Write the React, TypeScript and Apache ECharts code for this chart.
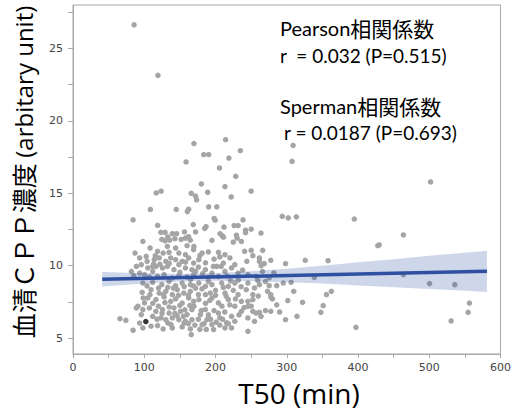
import React, { useEffect, useRef } from "react";
import * as echarts from "echarts";

// T50 (min), serum CPP (arbitrary unit)
const points: number[][] = [
  [85.7,26.63],[119.2,23.14],[169.7,18.43],[214.2,18.7],[234.9,17.94],[183.5,17.67],[190.4,17.67],[218.8,17.43],
  [158.7,17.16],[205.6,16.75],[228.4,16.17],[180.2,15.64],[213.3,15.46],[116.8,15.02],[123.7,15.14],[166,15.0],
  [172,14.8],[189,15.07],[222,14.75],[250,15.14],[308.9,18.3],[307.5,17.2],[501.8,15.78],[173.5,14.55],
  [190.4,14.06],[201.8,14.06],[293.7,13.41],[302,13.3],[313.5,13.37],[198.1,13.26],[199.5,13.14],[238.6,13.16],
  [168.8,12.84],[172,12.33],[186.7,12.7],[184.9,12.57],[211.9,12.66],[226.2,12.77],[231.7,12.77],[242.2,12.45],
  [250.1,12.52],[263.8,12.25],[206.4,12.21],[209.7,12.05],[229.4,12.1],[230.4,11.9],[242.2,12.28],[195,11.75],
  [224.9,11.62],[236.3,11.67],[211.1,11.97],
  [108.6,13.88],[144.9,13.88],[160.5,13.74],[162.3,13.9],[84.3,13.16],[118.8,12.79],[123.3,12.3],[129.2,12.3],
  [139.4,12.21],[145.4,12.21],[133,11.98],[156.4,12.33],[162.3,12.0],[124.7,11.81],[129.2,11.72],[135.7,11.76],
  [143,11.86],[151.8,11.81],[157.8,11.9],[164.6,11.76],[98.1,11.67],
  [108.2,11.22],[118.7,10.99],[132.5,11.33],[144,11.22],[160.1,11.38],[169.3,11.1],[115.5,10.69],[126.5,10.87],
  [134.8,10.92],[148.6,10.87],[157.8,10.76],[93.5,10.53],[102.7,10.64],[114.1,10.41],[121,10.53],[130.2,10.3],
  [137.1,10.53],[144,10.41],[153.2,10.3],[162.4,10.53],[169.3,10.18],[88.9,9.95],[95.8,10.07],[105,9.84],
  [116.4,9.95],[125.6,9.84],[132.5,9.95],[141.7,9.72],[148.6,10.07],[157.8,9.84],[166.9,9.72],[82,9.61],
  [93.5,9.49],[111.8,9.61],[85.2,9.31],[100.4,9.38],[107.2,9.22],[118.7,9.26],[127.9,9.38],[139.4,9.15],
  [148.6,9.31],[160.1,9.22],[169.3,9.38],[98.1,8.8],[111.8,8.85],[124.7,8.69],[134.8,8.92],[144,8.62],
  [153.2,8.8],[164.7,8.69],[97.1,8.16],[109.5,8.34],[121,8.11],[130.2,8.23],[139.4,8.0],[146.3,8.34],
  [155.5,8.11],[164.7,8.23],[105,7.77],[116.4,7.66],[127.9,7.84],[137.1,7.54],[144,7.7],[153.2,7.42],
  [162.4,7.77],[169.3,7.54],[100.4,7.43],[91.2,7.2],[88.9,7.08],[98.1,6.97],[107.2,7.08],[116.4,6.85],
  [125.6,6.97],[134.8,6.73],[141.7,7.08],[150.9,6.85],[160.1,6.62],[166.9,6.97],[95.8,6.62],[111.8,6.5],
  [123.3,6.39],[130.2,6.27],[139.4,6.39],[148.6,6.27],[157.8,6.16],[166.9,6.27],[65.9,6.34],[74.2,6.23],
  [93.5,6.04],[84.3,5.54],[98.1,5.7],[109.5,5.82],[118.7,5.86],[126.5,5.63],[139.4,5.7],[153.2,5.77],
  [164.7,5.63],[166,5.24],[87,10.87],[98.5,7.77],[222.5,5.7],[155.9,6.04],[137.5,5.93],
  [240.9,10.99],[250.1,11.06],[252.4,10.69],[261.6,10.53],[266.2,11.06],[277.6,10.37],[298.3,10.14],[325.9,10.37],
  [213.3,10.76],[220.2,10.53],[181.2,10.87],[169.7,11.33],[176.6,10.41],[204.1,10.92],[211,10.18],[227.1,10.07],
  [201.8,9.95],[172,9.61],[185.8,9.72],[195,9.49],[204.1,9.26],[213.3,9.61],[222.5,9.84],[231.7,9.49],
  [245.5,9.38],[257,9.26],[259.3,8.99],[275.3,9.15],[285.9,8.62],[295.1,8.8],[306.1,8.85],[245.5,8.8],
  [243.2,8.34],[254.7,8.46],[261.6,8.69],[273,8.23],[277.6,8.0],[279.9,7.7],[301.5,7.59],[309.8,8.23],
  [172,8.45],[176.6,8.8],[185.8,8.57],[195,8.69],[208.7,8.8],[217.9,8.57],[227.1,8.8],[213.3,8.11],
  [176.6,7.66],[185.8,8.0],[195,7.77],[204.1,7.43],[217.9,7.66],[227.1,7.2],[236.3,7.54],[250.1,7.2],
  [252.4,6.85],[263.9,6.5],[277.6,6.85],[298.3,6.27],[314.4,6.5],[245.5,6.39],[254.7,6.16],[169.7,7.2],
  [178.9,6.62],[188.1,6.27],[195,5.93],[197.3,5.59],[213.3,5.7],[215.6,6.05],[227.1,6.16],[245.5,5.47],
  [185.8,6.97],[204.1,6.73],[222.5,6.5],[236.3,6.85],[181.2,5.93],[192.7,8.11],[231.7,8.0],
  [261.6,10.3],[268.5,10.14],[358,10.34],[275.4,8.62],[338.7,9.19],[362.6,8.23],[355.7,8.0],[277.6,7.84],
  [252.4,8.0],[252.4,7.65],[245.5,7.54],[245.5,7.19],[322.2,7.47],[351.1,7.24],[261.6,6.78],[257,6.73],
  [347.9,6.78],[397.1,5.74],
  [394.8,13.22],[463.7,12.12],[427.8,11.38],[429.7,11.43],[463.7,9.38],[500.4,8.76],[535.8,8.69],
  [556.4,7.42],[554.6,6.78],[530.7,6.18],
  [113,10.1],[122,10.1],[135,10.15],[150,9.55],[158,10.25],[165,9.05],[120,8.45],[127,8.0],
  [133,8.5],[141,8.45],[148,7.95],[156,8.55],[162,7.95],[169,8.6],[120,7.2],[129,7.45],
  [135,7.15],[143,6.7],[150,7.25],[157,6.95],[164,7.25],[125,6.7],[133,6.05],[146,6.55],
  [155,6.5],[162,6.0],[118,6.3],[112,7.4],[108,8.0],[104,8.6],[112,9.95],[104,10.3],
  [178,10.7],[186,10.2],[190,10.95],[198,10.45],[206,10.6],[176,9.9],[182,9.45],[190,9.2],
  [197,9.95],[208,9.95],[216,9.3],[181,8.4],[190,8.9],[200,8.3],[211,8.5],[221,8.95],
  [176,8.0],[186,7.4],[192,7.6],[200,7.95],[209,7.2],[215,7.9],[225,8.3],[180,6.9],
  [190,6.6],[198,6.9],[206,6.4],[213,6.8],[220,7.3],[176,6.3],[184,6.0],[193,6.3],
  [201,6.1],[210,6.3],[218,6.0],[187,5.6],[206,5.9],[171,5.9],[178,5.6],
  [232,9.0],[238,9.7],[244,10.3],[236,8.55],[228,7.7],[240,7.1],[233,6.6],[260,7.9],
  [266,9.6],[270,8.9],[282,9.5],[286,7.3],[270,6.9],[290,6.8],[264,10.0]
];
const highlighted: number[][] = [[102.2, 6.14]];

// regression line and its confidence band
const fitLine: number[][] = [[41, 9.06], [581, 9.61]];
const bandX = [41, 100, 150, 200, 250, 300, 350, 400, 450, 500, 550, 581];
const bandLow = [8.56, 8.76, 8.9, 8.95, 8.92, 8.85, 8.76, 8.63, 8.51, 8.38, 8.26, 8.19];
const bandHigh = [9.56, 9.48, 9.44, 9.49, 9.62, 9.79, 10.0, 10.23, 10.45, 10.68, 10.9, 11.03];

const yLabelValues = [5, 10, 15, 20, 25];
const yTickValues = [5, 7.5, 10, 12.5, 15, 17.5, 20, 22.5, 25, 27.5];

const LATIN = 'Lato, "Noto Sans", sans-serif';
const WIDE = '"Open Sans", "Noto Sans", sans-serif';
const CJK = '"Noto Sans CJK JP", sans-serif';

export default function App() {
  const ref = useRef<HTMLDivElement>(null);
  useEffect(() => {
    if (!ref.current) return;
    const chart = echarts.init(ref.current, undefined, { renderer: "svg" });
    const axisColor = "#a8a8a8";
    chart.setOption({
      animation: false,
      grid: { left: 73, top: 5, right: 4, bottom: 57, show: true, borderColor: axisColor, borderWidth: 1, backgroundColor: "transparent" },
      xAxis: {
        type: "value", min: 0, max: 600, interval: 100,
        axisLine: { show: true, onZero: false, lineStyle: { color: axisColor } },
        axisTick: { show: true, length: 4, lineStyle: { color: axisColor } },
        minorTick: { show: true, splitNumber: 2, length: 4, lineStyle: { color: axisColor } },
        splitLine: { show: false },
        axisLabel: { color: "#444", fontSize: 11, fontFamily: "DejaVu Sans", margin: 8 },
      },
      yAxis: {
        type: "value", min: 3.9, max: 28,
        axisLine: { show: true, onZero: false, lineStyle: { color: axisColor } },
        axisTick: { show: true, length: 5, customValues: yTickValues, lineStyle: { color: axisColor } },
        splitLine: { show: false },
        axisLabel: { color: "#444", fontSize: 11, fontFamily: "DejaVu Sans", margin: 10, customValues: yLabelValues },
      },
      series: [
        {
          type: "scatter", data: points, symbolSize: 5.5, z: 2,
          itemStyle: { color: "#a5a5a5", opacity: 1 }, silent: true,
        },
        {
          type: "scatter", data: highlighted, symbolSize: 5.5, z: 2,
          itemStyle: { color: "#000" }, silent: true,
        },
        {
          type: "custom", z: 3, silent: true, data: [[0, 0]],
          renderItem: (_params: any, api: any) => {
            const pts: number[][] = [];
            for (let i = 0; i < bandX.length; i++) pts.push(api.coord([bandX[i], bandHigh[i]]));
            for (let i = bandX.length - 1; i >= 0; i--) pts.push(api.coord([bandX[i], bandLow[i]]));
            return { type: "polygon", shape: { points: pts }, style: { fill: "rgba(45,80,165,0.235)" } };
          },
        },
        {
          type: "line", data: fitLine, symbol: "none", z: 4, silent: true,
          lineStyle: { color: "#2f50a1", width: 3.5 },
        },
      ],
      graphic: [
        {
          type: "text", left: 280, top: 17,
          style: {
            text: "{a|Pearson}{b|相関係数}",
            rich: {
              a: { font: `20px ${LATIN}`, fill: "#000" },
              b: { font: `21px ${CJK}`, fill: "#000" },
            },
          },
        },
        {
          type: "text", left: 280, top: 46,
          style: { text: "r  = 0.032 (P=0.515)", font: `19px ${LATIN}`, fill: "#000" },
        },
        {
          type: "text", left: 280, top: 95,
          style: {
            text: "{a|Sperman}{b|相関係数}",
            rich: {
              a: { font: `20px ${LATIN}`, fill: "#000" },
              b: { font: `21px ${CJK}`, fill: "#000" },
            },
          },
        },
        {
          type: "text", left: 284, top: 123,
          style: { text: "r = 0.0187 (P=0.693)", font: `19px ${LATIN}`, fill: "#000" },
        },
        {
          type: "text", x: 299, y: 393,
          style: { text: "T50 (min)", font: `28px ${WIDE}`, lineHeight: 28, fill: "#000", textAlign: "center", textVerticalAlign: "middle", align: "center", verticalAlign: "middle" },
        },
        {
          type: "text", x: 23, y: 172, rotation: Math.PI / 2,
          style: {
            text: "{b|血清ＣＰＰ濃度 }{a|(arbitary unit)}",
            textAlign: "center", textVerticalAlign: "middle", align: "center", verticalAlign: "middle",
            rich: {
              a: { font: `24px ${WIDE}`, fill: "#000" },
              b: { font: `25px ${CJK}`, fill: "#000" },
            },
          },
        },
      ],
    });
    return () => chart.dispose();
  }, []);
  return (
    <div style={{ position: "absolute", left: 0, top: 0, width: 514, height: 411, background: "#fff" }}>
      <div ref={ref} style={{ width: 514, height: 411 }} />
    </div>
  );
}
